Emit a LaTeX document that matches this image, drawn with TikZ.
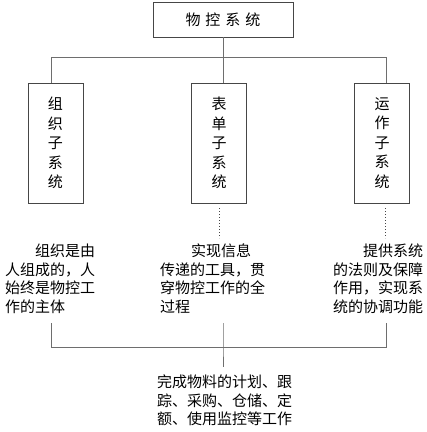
\documentclass[tikz,border=0pt]{standalone}
\usepackage{fontspec}
\setmainfont{Noto Sans CJK SC}
\usetikzlibrary{positioning, calc}
\usepackage{xcolor}
\definecolor{dgray}{RGB}{70,70,70}
\definecolor{lgray}{RGB}{110,110,110}

\begin{document}
\begin{tikzpicture}[x=1pt,y=-1pt,
  topbox/.style={draw=dgray,line width=0.9pt,minimum width=140pt,minimum height=35pt,
                 inner sep=0pt,font=\fontsize{15}{18}\selectfont},
  subbox/.style={draw=dgray,line width=0.9pt,minimum width=55pt,minimum height=120pt,
                 inner sep=0pt,align=center,font=\fontsize{15}{19.5}\selectfont},
  txt/.style={anchor=north west,align=left,inner sep=0pt,
              font=\fontsize{15}{18.5}\selectfont},
  wire/.style={lgray,line width=0.8pt},
  dots/.style={dgray,dotted,line width=1pt}
]
\useasboundingbox (0,0) rectangle (427,432);

% ── Kopf ───────────────────────────────────────────────
\node[topbox] (top) at (223,19.5) {物\hspace{5pt}控\hspace{5pt}系\hspace{5pt}统};

% ── Teilsysteme ────────────────────────────────────────
\node[subbox] (org)  at (55.5,143) {组\\织\\子\\系\\统};
\node[subbox] (form) at (219,143)  {表\\单\\子\\系\\统};
\node[subbox] (run)  at (382,143)  {运\\作\\子\\系\\统};

\coordinate (b1) at (51,57);
\coordinate (b2) at (223,57);
\coordinate (b3) at (386,57);
\draw[wire] (top.south) -- (b2);
\draw[wire] (b1) -- (b3);
\draw[wire] (b1) -- (b1 |- org.north);
\draw[wire] (b2) -- (b2 |- form.north);
\draw[wire] (b3) -- (b3 |- run.north);

\draw[dots] ($(form.south)+(0,5)$) -- ++(0,30);
\draw[dots] ($(run.south)+(3,5)$) -- ++(0,30);

% ── Aufgaben ───────────────────────────────────────────
\node[txt] (torg)  at (5,244)   {\hspace*{30pt}组织是由\\人组成的，人\\始终是物控工\\作的主体};
\node[txt] (tform) at (160,244) {\hspace*{31pt}实现信息\\传递的工具，贯\\穿物控工作的全\\过程};
\node[txt] (trun)  at (333,244) {\hspace*{30pt}提供系统\\的法则及保障\\作用，实现系\\统的协调功能};

\coordinate (t1) at (51,323);
\coordinate (t2) at (223,323);
\coordinate (t3) at (386,323);
\coordinate (c1) at (51,347);
\coordinate (c2) at (223,347);
\coordinate (c3) at (386,347);
\coordinate (c4) at (223,367);
\draw[wire] (t1) -- (c1) -- (c3) -- (t3);
\draw[wire] (t2) -- (c2) -- (c4);

% ── Ergebnis ───────────────────────────────────────────
\node[txt] (goal) at (157,375) {完成物料的计划、跟\\踪、采购、仓储、定\\额、使用监控等工作};

\end{tikzpicture}
\end{document}
